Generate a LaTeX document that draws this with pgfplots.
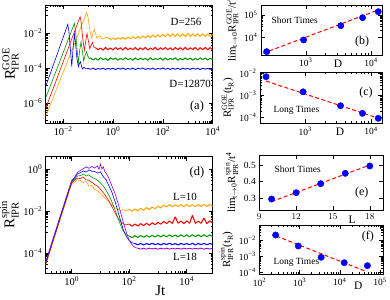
\documentclass[border=0pt]{standalone}
\usepackage{amsmath}
\usepackage{fontspec}
\setmainfont{Liberation Serif}
\usepackage{pgfplots}
\pgfplotsset{compat=1.18}
\definecolor{cblue}{RGB}{0,0,255}
\definecolor{cgreen}{RGB}{0,150,0}
\definecolor{cred}{RGB}{255,0,0}
\definecolor{corange}{RGB}{255,165,0}
\definecolor{cpurple}{RGB}{148,0,211}
\newcommand{\sj}[1]{10\textsuperscript{#1}}
\pgfplotsset{
  mybase/.style={
    scale only axis, anchor=south west, clip mode=individual,
    axis line style={line width=0.8pt},
    major tick length=4pt, minor tick length=2pt,
    every tick/.style={black, line width=0.5pt},
  },
  myleft/.style={mybase,
    tick label style={font=\fontsize{10.5}{11}\selectfont},
    ylabel style={font=\fontsize{15}{15}\selectfont, yshift=-2pt},
    xlabel style={font=\fontsize{15}{15}\selectfont}},
  myright/.style={mybase,
    tick label style={font=\fontsize{9.5}{10}\selectfont},
    ylabel style={font=\fontsize{11}{11}\selectfont, yshift=-1pt}},
  mydot/.style={only marks, mark=*, mark size=3.2pt, draw=cblue, fill=cblue},
  myfit/.style={cred, line width=1pt, dash pattern=on 4pt off 2.5pt},
  mycurve/.style={line width=0.6pt},
  plat/.style={line width=1.05pt, line join=bevel},
}
\begin{document}
\begin{tikzpicture}
\useasboundingbox (0,0) rectangle (390bp,300bp);
% ---------------- (a)
\begin{axis}[myleft, xmode=log, ymode=log, at={(45.7bp,177bp)}, width=167bp, height=118bp,
  xmin=2e-3, xmax=1e4, ymin=7.2e-8, ymax=0.4,
  xtick={1e-2,1,100,1e4}, xticklabels={\sj{−2},\sj{0},\sj{2},\sj{4}},
  minor xtick={2e-3,3e-3,4e-3,5e-3,6e-3,7e-3,8e-3,9e-3,0.1,0.2,0.3,0.4,0.5,0.6,0.7,0.8,0.9,10,20,30,40,50,60,70,80,90,1000,2000,3000,4000,5000,6000,7000,8000,9000},
  ytick={1e-6,1e-4,1e-2}, yticklabels={\sj{−6},\sj{−4},\sj{−2}},
  minor ytick={1e-7,2e-7,3e-7,4e-7,5e-7,6e-7,7e-7,8e-7,9e-7,1e-5,2e-5,3e-5,4e-5,5e-5,6e-5,7e-5,8e-5,9e-5,1e-3,2e-3,3e-3,4e-3,5e-3,6e-3,7e-3,8e-3,9e-3,0.1,0.2,0.3},
  ylabel={$\text{R}^{\text{GOE}}_{\text{IPR}}$}]
\addplot[mycurve, corange] coordinates {(0.002,1.66e-7) (0.005,4.6e-6) (0.01,5.6e-5) (0.02,6.9e-4) (0.04,8.5e-3) (0.06,3.7e-2) (0.075,8.3e-2) (0.0885,0.151) (0.1,7.9e-2) (0.12,1.26e-2) (0.14,5e-3) (0.16,1.12e-2) (0.179,1.7e-2) (0.205,7.9e-3) (0.229,5e-3) (0.26,6.3e-3) (0.3,7.1e-3) (0.34,5e-3) (0.41,4.6e-3) (0.5,5.6e-3) (0.631,5.4e-3)};
\addplot[plat, corange] coordinates {(0.631,5.4e-3) (0.794,4.3e-3) (1,5.2e-3) (1.26,4.2e-3) (1.58,5.3e-3) (2,4.4e-3) (2.51,5.5e-3) (3.16,4.5e-3) (3.98,5.8e-3) (5.01,4.7e-3) (6.31,6.1e-3) (7.94,4.8e-3) (10,6.4e-3) (12.6,5.0e-3) (15.8,6.8e-3) (20,5.2e-3) (25.1,7.2e-3) (31.6,5.5e-3) (39.8,7.6e-3) (50.1,5.8e-3) (63.1,8.0e-3) (79.4,6.0e-3) (100,8.5e-3) (126,6.2e-3) (158,8.9e-3) (200,6.4e-3) (251,9.1e-3) (316,6.4e-3) (398,9.2e-3) (501,6.3e-3) (631,9.0e-3) (794,6.4e-3) (1000,9.3e-3) (1260,6.3e-3) (1580,9.1e-3) (2000,6.5e-3) (2510,9.0e-3) (3160,6.3e-3) (3980,9.2e-3) (5010,6.4e-3) (6310,8.9e-3) (7940,6.3e-3) (10000,8.6e-3)};
\addplot[mycurve, cred] coordinates {(0.002,5e-7) (0.005,1.58e-5) (0.01,2.24e-4) (0.02,3.1e-3) (0.03,1.45e-2) (0.04,4.3e-2) (0.048,8.5e-2) (0.053,4e-2) (0.061,5e-3) (0.071,1e-3) (0.08,3.16e-3) (0.091,9.5e-3) (0.102,4e-3) (0.117,1.26e-3) (0.132,2e-3) (0.149,2.95e-3) (0.17,1.58e-3) (0.2,1.45e-3)};
\addplot[plat, cred] coordinates {(0.2,1.45e-3) (0.251,1.1e-3) (0.316,1.38e-3) (0.398,1.05e-3) (0.501,1.5e-3) (0.631,1.12e-3) (0.794,1.4e-3) (1,1.08e-3) (1.26,1.48e-3) (1.58,1.15e-3) (2,1.42e-3) (2.51,1.06e-3) (3.16,1.5e-3) (3.98,1.1e-3) (5.01,1.38e-3) (6.31,1.12e-3) (7.94,1.47e-3) (10,1.05e-3) (12.6,1.44e-3) (15.8,1.13e-3) (20,1.5e-3) (25.1,1.08e-3) (31.6,1.4e-3) (39.8,1.1e-3) (50.1,1.52e-3) (63.1,1.06e-3) (79.4,1.45e-3) (100,1.14e-3) (126,1.48e-3) (158,1.1e-3) (200,1.42e-3) (251,1.07e-3) (316,1.5e-3) (398,1.12e-3) (501,1.46e-3) (631,1.08e-3) (794,1.52e-3) (1000,1.1e-3) (1260,1.44e-3) (1580,1.14e-3) (2000,1.49e-3) (2510,1.07e-3) (3160,1.45e-3) (3980,1.12e-3) (5010,1.5e-3) (6310,1.09e-3) (7940,1.47e-3) (10000,1.12e-3)};
\addplot[mycurve, cgreen] coordinates {(0.002,1.95e-6) (0.005,5.75e-5) (0.01,7.4e-4) (0.02,9.8e-3) (0.025,2.24e-2) (0.0284,3.55e-2) (0.0315,1.26e-2) (0.036,1.26e-3) (0.041,2e-4) (0.046,1e-3) (0.0525,3.16e-3) (0.059,1e-3) (0.067,2.5e-4) (0.075,5e-4) (0.086,8.5e-4) (0.097,5e-4) (0.11,3.5e-4) (0.126,3.8e-4)};
\addplot[plat, cgreen] coordinates {(0.126,3.8e-4) (0.158,2.9e-4) (0.2,3.6e-4) (0.251,2.8e-4) (0.316,3.9e-4) (0.398,3.0e-4) (0.501,3.5e-4) (0.631,2.7e-4) (0.794,3.8e-4) (1,3.1e-4) (1.26,3.7e-4) (1.58,2.8e-4) (2,3.6e-4) (2.51,2.9e-4) (3.16,3.9e-4) (3.98,3.0e-4) (5.01,3.5e-4) (6.31,2.8e-4) (7.94,3.8e-4) (10,2.9e-4) (12.6,3.7e-4) (15.8,3.0e-4) (20,3.6e-4) (25.1,2.8e-4) (31.6,3.9e-4) (39.8,2.9e-4) (50.1,3.5e-4) (63.1,3.0e-4) (79.4,3.8e-4) (100,2.8e-4) (126,3.7e-4) (158,2.9e-4) (200,3.6e-4) (251,3.0e-4) (316,3.9e-4) (398,2.8e-4) (501,3.5e-4) (631,2.9e-4) (794,3.8e-4) (1000,3.0e-4) (1260,3.7e-4) (1580,2.8e-4) (2000,3.6e-4) (2510,2.9e-4) (3160,3.8e-4) (3980,3.0e-4) (5010,3.7e-4) (6310,2.9e-4) (7940,3.6e-4) (10000,3.0e-4)};
\addplot[mycurve, cblue] coordinates {(0.002,8.9e-6) (0.005,3.47e-4) (0.01,5.6e-3) (0.013,1.58e-2) (0.0145,2.5e-2) (0.0154,3.16e-2) (0.017,1.26e-2) (0.0195,1.26e-3) (0.0222,1.2e-4) (0.025,1.26e-3) (0.0284,8.3e-3) (0.032,2e-3) (0.036,3.2e-4) (0.041,1.2e-4) (0.045,1.8e-4) (0.0493,2.3e-4) (0.055,1.26e-4) (0.0593,8.7e-5) (0.068,1.12e-4) (0.0794,8.9e-5) (0.1,9.6e-5)};
\addplot[plat, cblue, line width=0.85pt] coordinates {(0.1,9.6e-5) (0.126,8.4e-5) (0.158,9.9e-5) (0.2,8.2e-5) (0.251,9.4e-5) (0.316,8.6e-5) (0.398,1.0e-4) (0.501,8.3e-5) (0.631,9.5e-5) (0.794,8.5e-5) (1,9.8e-5) (1.26,8.1e-5) (1.58,9.7e-5) (2,8.6e-5) (2.51,1.01e-4) (3.16,8.3e-5) (3.98,9.5e-5) (5.01,8.4e-5) (6.31,9.9e-5) (7.94,8.2e-5) (10,9.6e-5) (12.6,8.7e-5) (15.8,1.0e-4) (20,8.3e-5) (25.1,9.4e-5) (31.6,8.5e-5) (39.8,9.9e-5) (50.1,8.2e-5) (63.1,9.6e-5) (79.4,8.6e-5) (100,1.01e-4) (126,8.4e-5) (158,9.5e-5) (200,8.3e-5) (251,9.8e-5) (316,8.5e-5) (398,9.7e-5) (501,8.2e-5) (631,9.9e-5) (794,8.6e-5) (1000,9.5e-5) (1260,8.3e-5) (1580,1.0e-4) (2000,8.5e-5) (2510,9.6e-5) (3160,8.2e-5) (3980,9.8e-5) (5010,8.6e-5) (6310,9.6e-5) (7940,8.4e-5) (10000,9.4e-5)};
\node[font=\fontsize{11}{11}\selectfont] at (rel axis cs:0.84,0.856) {D=256};
\node[font=\fontsize{11}{11}\selectfont] at (rel axis cs:0.865,0.33) {D=12870};
\node[font=\fontsize{12.5}{12.5}\selectfont] at (rel axis cs:0.906,0.144) {(a)};
\end{axis}
% ---------------- (d)
\begin{axis}[myleft, xmode=log, ymode=log, at={(45.7bp,27bp)}, width=167bp, height=116.3bp,
  xmin=0.125, xmax=8e4, ymin=1.15e-5, ymax=4,
  xtick={1,100,1e4}, xticklabels={\sj{0},\sj{2},\sj{4}},
  minor xtick={0.2,0.3,0.4,0.5,0.6,0.7,0.8,0.9,10,20,30,40,50,60,70,80,90,1000,2000,3000,4000,5000,6000,7000,8000,9000},
  ytick={1e-4,1e-2,1}, yticklabels={\sj{−4},\sj{−2},\sj{0}},
  minor ytick={2e-5,3e-5,4e-5,5e-5,6e-5,7e-5,8e-5,9e-5,1e-3,2e-3,3e-3,4e-3,5e-3,6e-3,7e-3,8e-3,9e-3,0.1,0.2,0.3,0.4,0.5,0.6,0.7,0.8,0.9},
  ylabel={$\text{R}^{\text{spin}}_{\text{IPR}}$},
  xlabel={Jt}, xlabel style={at={(ticklabel cs:0.686)}, anchor=north, yshift=6.5pt}]
\addplot[mycurve, corange] coordinates {(0.126,2.8e-5) (0.316,1.48e-3) (0.631,2.9e-2) (0.794,7.8e-2) (1,0.19) (1.26,0.251) (1.58,0.316) (2,0.302) (2.51,0.24) (3.16,0.263) (3.98,0.158) (5.01,0.174) (6.31,0.112) (7.94,0.0955) (10,0.0708) (12.6,0.0525) (15.8,0.038) (20,0.0275) (25.1,0.02) (31.6,0.0151) (39.8,0.0126) (50.1,0.011) (63.1,0.012) (79.4,0.0105) (100,1.25e-2)};
\addplot[plat, corange] coordinates {(100,1.25e-2) (126,1.0e-2) (158,1.3e-2) (200,1.05e-2) (251,1.4e-2) (316,1.12e-2) (398,1.5e-2) (501,1.22e-2) (631,1.6e-2) (794,1.32e-2) (1000,1.75e-2) (1260,1.45e-2) (1580,2.0e-2) (2000,1.6e-2) (2510,2.1e-2) (3160,1.65e-2) (3980,2.05e-2) (5010,1.7e-2) (6310,2.1e-2) (7940,1.65e-2) (10000,2.15e-2) (12600,1.7e-2) (15800,2.05e-2) (20000,1.68e-2) (25100,2.1e-2) (31600,1.72e-2) (39800,2.15e-2) (50100,1.7e-2) (63100,2.1e-2) (79400,1.75e-2)};
\addplot[mycurve, cred] coordinates {(0.126,3.2e-5) (0.316,1.66e-3) (0.631,3.2e-2) (0.794,8.7e-2) (1,0.22) (1.26,0.302) (1.58,0.38) (2,0.363) (2.51,0.437) (3.16,0.316) (3.98,0.302) (5.01,0.24) (6.31,0.19) (7.94,0.158) (10,0.112) (12.6,0.0759) (15.8,0.05) (20,0.0302) (25.1,0.0166) (31.6,8.9e-3) (39.8,5.0e-3) (50.1,3.3e-3) (63.1,2.5e-3) (79.4,2.24e-3) (100,2.5e-3)};
\addplot[plat, cred] coordinates {(100,2.5e-3) (126,1.95e-3) (158,2.45e-3) (200,2.0e-3) (251,2.6e-3) (316,2.05e-3) (398,2.7e-3) (501,2.15e-3) (631,2.85e-3) (794,2.3e-3) (1000,3.0e-3) (1260,2.45e-3) (1580,3.3e-3) (2000,2.6e-3) (2510,3.4e-3) (3160,2.65e-3) (3980,5.5e-3) (5010,2.7e-3) (6310,3.45e-3) (7940,2.6e-3) (10000,3.5e-3) (12600,2.7e-3) (15800,6.5e-3) (20000,2.65e-3) (25100,3.4e-3) (31600,2.7e-3) (39800,4.8e-3) (50100,2.6e-3) (63100,3.5e-3) (79400,2.8e-3)};
\addplot[mycurve, cgreen] coordinates {(0.126,3.55e-5) (0.316,1.86e-3) (0.631,3.63e-2) (0.794,9.8e-2) (1,0.25) (1.26,0.339) (1.58,0.479) (2,0.5) (2.51,0.603) (3.16,0.479) (3.98,0.55) (5.01,0.417) (6.31,0.363) (7.94,0.302) (10,0.224) (12.6,0.158) (15.8,0.1) (20,0.0562) (25.1,0.0282) (31.6,0.0126) (39.8,5.0e-3) (50.1,2.24e-3) (63.1,1.12e-3) (79.4,7.6e-4) (100,6.6e-4)};
\addplot[plat, cgreen] coordinates {(100,6.6e-4) (126,5.6e-4) (158,6.9e-4) (200,5.7e-4) (251,7.0e-4) (316,5.8e-4) (398,7.1e-4) (501,5.9e-4) (631,7.2e-4) (794,6.0e-4) (1000,7.3e-4) (1260,6.0e-4) (1580,7.4e-4) (2000,6.1e-4) (2510,7.5e-4) (3160,6.2e-4) (3980,7.4e-4) (5010,6.1e-4) (6310,7.6e-4) (7940,6.2e-4) (10000,7.5e-4) (12600,6.1e-4) (15800,7.6e-4) (20000,6.3e-4) (25100,7.5e-4) (31600,6.2e-4) (39800,7.7e-4) (50100,6.2e-4) (63100,7.5e-4) (79400,6.3e-4)};
\addplot[mycurve, cblue] coordinates {(0.126,3.8e-5) (0.316,2.0e-3) (0.631,3.9e-2) (0.794,0.105) (1,0.27) (1.26,0.38) (1.58,0.603) (2,0.692) (2.51,0.832) (3.16,0.741) (3.98,0.933) (5.01,0.813) (6.31,0.794) (7.94,0.661) (10,0.759) (12.6,0.447) (15.8,0.316) (20,0.158) (25.1,0.0794) (31.6,0.0316) (39.8,0.0112) (50.1,3.55e-3) (63.1,1.26e-3) (79.4,6.3e-4) (100,4.0e-4) (126,3.16e-4) (158,2.9e-4)};
\addplot[plat, cblue] coordinates {(158,2.9e-4) (200,2.55e-4) (251,2.95e-4) (316,2.5e-4) (398,2.9e-4) (501,2.6e-4) (631,3.0e-4) (794,2.55e-4) (1000,2.9e-4) (1260,2.5e-4) (1580,2.95e-4) (2000,2.6e-4) (2510,3.0e-4) (3160,2.55e-4) (3980,2.9e-4) (5010,2.5e-4) (6310,2.95e-4) (7940,2.6e-4) (10000,2.9e-4) (12600,2.55e-4) (15800,3.0e-4) (20000,2.5e-4) (25100,2.9e-4) (31600,2.6e-4) (39800,2.95e-4) (50100,2.55e-4) (63100,2.9e-4) (79400,2.6e-4)};
\addplot[mycurve, cpurple] coordinates {(0.126,4.0e-5) (0.316,2.1e-3) (0.631,4.1e-2) (0.794,0.11) (1,0.29) (1.26,0.417) (1.58,0.708) (2,0.891) (2.51,1.047) (3.16,1.318) (3.98,1.122) (5.01,1.38) (6.31,1.148) (7.94,1.445) (8.91,1.0) (10,1.778) (11.2,1.047) (12.6,1.318) (14.1,0.794) (15.8,0.661) (20,0.355) (25.1,0.158) (31.6,0.0759) (39.8,0.0282) (50.1,8.9e-3) (63.1,2.8e-3) (79.4,1.0e-3) (100,4.2e-4) (126,2.5e-4) (158,1.9e-4) (200,1.75e-4)};
\addplot[plat, cpurple, line width=0.85pt] coordinates {(200,1.75e-4) (251,1.58e-4) (316,1.74e-4) (398,1.57e-4) (501,1.76e-4) (631,1.6e-4) (794,1.75e-4) (1000,1.57e-4) (1260,1.74e-4) (1580,1.59e-4) (2000,1.76e-4) (2510,1.58e-4) (3160,1.75e-4) (3980,1.6e-4) (5010,1.74e-4) (6310,1.57e-4) (7940,1.76e-4) (10000,1.59e-4) (12600,1.75e-4) (15800,1.58e-4) (20000,1.74e-4) (25100,1.6e-4) (31600,1.76e-4) (39800,1.57e-4) (50100,1.75e-4) (63100,1.59e-4) (79400,1.74e-4)};
\node[font=\fontsize{12.5}{12.5}\selectfont] at (rel axis cs:0.906,0.868) {(d)};
\node[font=\fontsize{11}{11}\selectfont] at (rel axis cs:0.834,0.653) {L=10};
\node[font=\fontsize{11}{11}\selectfont] at (rel axis cs:0.834,0.138) {L=18};
\end{axis}
% ---------------- (b)
\begin{axis}[myright, xmode=log, ymode=log, at={(261bp,245bp)}, width=121.3bp, height=50bp,
  xmin=206, xmax=14840, ymin=1.6e3, ymax=2.8e5,
  xtick={1000,10000}, xticklabels={\sj{3},\sj{4}},
  ytick={1e4,1e5}, yticklabels={\sj{4},\sj{5}},
  ylabel={$\text{lim}_{\text{t}\rightarrow\text{0}}\text{R}^{\text{GOE}}_{\text{IPR}}\text{/t}^{\text{4}}$}]
\addplot[myfit] coordinates {(223,1920) (13680,1.8e5)};
\addplot[mydot] coordinates {(252,2260) (924,7570) (3432,33100) (7400,75700) (12870,140000)};
\node[anchor=west, font=\fontsize{9.5}{10}\selectfont] at (rel axis cs:0.058,0.70) {Short Times};
\node[font=\fontsize{12}{12}\selectfont] at (rel axis cs:0.833,0.26) {(b)};
\node[anchor=base, yshift=-13bp, font=\fontsize{11.5}{12}\selectfont] at (rel axis cs:0.635,0) {D};
\end{axis}
% ---------------- (c)
\begin{axis}[myright, xmode=log, ymode=log, at={(260bp,176.7bp)}, width=122.3bp, height=51bp,
  xmin=204, xmax=14840, ymin=5.56e-5, ymax=1.16e-2,
  xtick={1000,10000}, xticklabels={\sj{3},\sj{4}},
  ytick={1e-4,1e-3,1e-2}, yticklabels={\sj{−4},\sj{−3},\sj{−2}},
  ylabel={$\text{R}^{\text{GOE}}_{\text{IPR}}\text{(t}_{\text{R}}\text{)}$}]
\addplot[myfit] coordinates {(252,4.65e-3) (14500,8.45e-5)};
\addplot[mydot] coordinates {(252,7.3e-3) (924,1.5e-3) (3432,3.5e-4) (7400,1.58e-4) (12870,9.4e-5)};
\node[anchor=west, font=\fontsize{9.5}{10}\selectfont] at (rel axis cs:0.082,0.26) {Long Times};
\node[font=\fontsize{12}{12}\selectfont] at (rel axis cs:0.867,0.61) {(c)};
\node[anchor=base, yshift=-12bp, font=\fontsize{11.5}{12}\selectfont] at (rel axis cs:0.654,0) {D};
\end{axis}
% ---------------- (e)
\begin{axis}[myright, at={(259.3bp,90bp)}, width=124bp, height=55bp,
  xmin=9, xmax=19.1, ymin=0.23, ymax=0.56,
  xtick={9,12,15,18}, ytick={0.3,0.4,0.5},
  yticklabels={0.3,0.4,0.5},
  ylabel={$\text{lim}_{\text{t}\rightarrow\text{0}}\text{R}^{\text{spin}}_{\text{IPR}}\text{/t}^{\text{4}}$}]
\addplot[myfit] coordinates {(10,0.28) (18,0.50)};
\addplot[mydot] coordinates {(10,0.296) (12,0.334) (14,0.388) (16,0.45) (18,0.494)};
\node[anchor=west, font=\fontsize{9.5}{10}\selectfont] at (rel axis cs:0.095,0.736) {Short Times};
\node[font=\fontsize{12}{12}\selectfont] at (rel axis cs:0.826,0.318) {(e)};
\node[anchor=base, yshift=-14bp, font=\fontsize{11.5}{12}\selectfont] at (rel axis cs:0.748,0) {L};
\end{axis}
% ---------------- (f)
\begin{axis}[myright, xmode=log, ymode=log, at={(259.5bp,25.7bp)}, width=123.5bp, height=49.3bp,
  xmin=100, xmax=1.19e5, ymin=7.9e-5, ymax=0.087,
  xtick={100,1000,10000,100000}, xticklabels={\sj{2},\sj{3},\sj{4},\sj{5}},
  ytick={1e-4,1e-3,1e-2,1e-1}, yticklabels={\sj{−4},\sj{−3},\sj{−2},\sj{−1}},
  ylabel={$\text{R}^{\text{spin}}_{\text{IPR}}\text{(t}_{\text{R}}\text{)}$}]
\addplot[myfit] coordinates {(262,1.82e-2) (46500,1.15e-4)};
\addplot[mydot] coordinates {(252,2.1e-2) (924,4.4e-3) (3432,8.9e-4) (12870,4.1e-4) (48620,2.7e-4)};
\node[anchor=west, font=\fontsize{9.5}{10}\selectfont] at (rel axis cs:0.085,0.25) {Long Times};
\node[font=\fontsize{12}{12}\selectfont] at (rel axis cs:0.878,0.757) {(f)};
\node[anchor=base, yshift=-15.5bp, font=\fontsize{11.5}{12}\selectfont] at (rel axis cs:0.80,0) {D};
\end{axis}
\end{tikzpicture}
\end{document}
